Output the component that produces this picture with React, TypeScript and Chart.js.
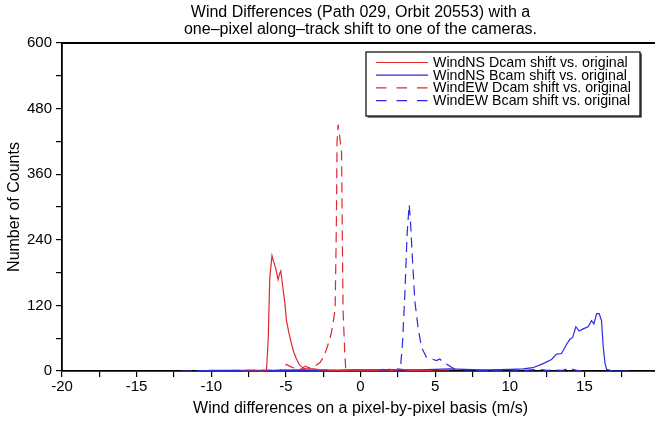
import React, { useEffect, useRef } from 'react';
import { Chart, registerables } from 'chart.js';

Chart.register(...registerables);

const titleLines = [
  'Wind Differences (Path 029, Orbit 20553) with a',
  'one–pixel along–track shift to one of the cameras.',
];
const xAxisTitle = 'Wind differences on a pixel-by-pixel basis (m/s)';
const yAxisTitle = 'Number of Counts';

const xTickLabels = [-20, -15, -10, -5, 0, 5, 10, 15];
const yTickLabels = [0, 120, 240, 360, 480, 600];

const seriesLabels = [
  'WindNS Dcam shift vs. original',
  'WindNS Bcam shift vs. original',
  'WindEW Dcam shift vs. original',
  'WindEW Bcam shift vs. original',
];

// WindNS Dcam (red solid)
const nsDcamX = [-8, -6.3, -6.18, -6.08, -5.93, -5.82, -5.7, -5.52, -5.42, -5.34, -5.19, -5.07, -4.96, -4.8, -4.63, -4.45, -4.29, -4.1, -3.96, -3.85, -3.7, -3.55, -3.4, -3.1, -2.8, -2.4, -2.0, -1.5, -1.0, -0.5, 0, 0.5, 1.0, 1.5, 2.0, 2.5, 3.0, 3.5, 4.0, 4.5, 5.0, 6.0];
const nsDcamY = [0, 0, 60, 170, 211, 200, 190, 167, 178, 183, 150, 125, 92, 70, 50, 33, 22, 12, 8, 6, 9, 7, 4, 4, 2, 2, 1, 1, 1, 2, 1, 2, 1, 3, 1, 3, 2, 1, 2, 1, 0, 0];

// WindNS Bcam (blue solid)
const nsBcamX = [-11, -10, -8, -6, -4, -2, 0, 2, 4, 5, 6, 7, 8, 8.67, 10.0, 10.9, 11.55, 12.2, 12.8, 13.14, 13.47, 13.81, 14.03, 14.21, 14.43, 14.65, 14.92, 15.25, 15.48, 15.64, 15.82, 15.99, 16.15, 16.26, 16.38, 16.49, 16.9, 18];
const nsBcamY = [0, 1, 1, 1, 2, 1, 2, 2, 2, 3, 4, 3, 2, 2, 3, 4, 6, 13, 21, 31, 32, 49, 58, 61, 81, 73, 77, 81, 92, 86, 105, 105, 92, 45, 15, 3, 0, 0];

// WindEW Dcam (red dashed)
const ewDcamX = [-7, -5.4, -5.1, -4.95, -4.7, -4.5, -4.2, -3.9, -3.6, -3.3, -3.0, -2.7, -2.5, -2.3, -2.1, -1.95, -1.8, -1.7, -1.62, -1.57, -1.5, -1.4, -1.27, -1.17, -1.05, -0.98, -0.5, 0, 0.5, 1.0, 1.5, 2.0, 2.5, 3.0, 3.5, 4.5];
const ewDcamY = [0, 0, 10, 12, 8, 6, 4, 4, 5, 7, 10, 16, 25, 38, 55, 70, 95, 113, 260, 420, 451, 430, 400, 113, 30, 0, 1, 2, 1, 1, 2, 3, 4, 2, 1, 0];

// WindEW Bcam (blue dashed)
const ewBcamX = [-12, -8, -5, -2, 1, 2.5, 2.68, 2.81, 2.97, 3.12, 3.26, 3.35, 3.49, 3.64, 3.86, 4.09, 4.42, 4.76, 5.09, 5.31, 5.54, 5.8, 6.1, 6.3, 7, 8, 9, 10, 11, 12, 12.5, 13, 13.5, 14, 14.5, 15];
const ewBcamY = [0, 1, 1, 1, 1, 1, 7, 49, 140, 249, 304, 273, 200, 128, 79, 43, 25, 22, 19, 22, 16, 12, 7, 4, 2, 1, 1, 2, 1, 3, 1, 2, 1, 5, 1, 0];

const RED = '#e3262b';
const BLUE = '#2b2be3';
const FONT = '"Liberation Sans", Arial, Helvetica, sans-serif';

const toPoints = (xs: number[], ys: number[]) => xs.map((x, i) => ({ x, y: ys[i] }));

const frameAndLegend = {
  id: 'frameAndLegend',
  afterDraw(chart: any) {
    const { ctx, chartArea } = chart;
    ctx.save();
    // top frame line
    ctx.strokeStyle = '#000';
    ctx.lineWidth = 1.8;
    ctx.beginPath();
    ctx.moveTo(chartArea.left, chartArea.top);
    ctx.lineTo(chartArea.right, chartArea.top);
    ctx.stroke();

    // legend box
    const bx = 366, by = 52, bw = 274, bh = 64;
    ctx.fillStyle = '#fff';
    ctx.fillRect(bx, by, bw, bh);
    ctx.strokeStyle = '#000';
    ctx.lineWidth = 1.2;
    ctx.strokeRect(bx, by, bw, bh);
    ctx.beginPath();
    ctx.moveTo(bx + 1.5, by + bh + 1);
    ctx.lineTo(bx + bw + 1, by + bh + 1);
    ctx.lineTo(bx + bw + 1, by + 1.5);
    ctx.stroke();

    ctx.font = '14.2px ' + FONT;
    ctx.textBaseline = 'middle';
    ctx.textAlign = 'left';
    chart.data.datasets.forEach((ds: any, i: number) => {
      const y = 62.5 + i * 12.7;
      ctx.strokeStyle = ds.borderColor;
      ctx.lineWidth = ds.borderWidth;
      ctx.setLineDash(ds.borderDash ? [10.5, 10] : []);
      ctx.beginPath();
      ctx.moveTo(376, y);
      ctx.lineTo(428, y);
      ctx.stroke();
      ctx.setLineDash([]);
      ctx.fillStyle = '#000';
      ctx.fillText(ds.label, 433, y + 0.5);
    });
    ctx.restore();
  },
};

export default function App() {
  const canvasRef = useRef<HTMLCanvasElement | null>(null);

  useEffect(() => {
    const canvas = canvasRef.current;
    if (!canvas) return;
    const chart = new Chart(canvas, {
      type: 'line',
      data: {
        datasets: [
          { label: seriesLabels[0], data: toPoints(nsDcamX, nsDcamY), borderColor: RED, borderWidth: 1.2, pointRadius: 0, tension: 0, fill: false },
          { label: seriesLabels[1], data: toPoints(nsBcamX, nsBcamY), borderColor: BLUE, borderWidth: 1.2, pointRadius: 0, tension: 0, fill: false },
          { label: seriesLabels[2], data: toPoints(ewDcamX, ewDcamY), borderColor: RED, borderWidth: 1.2, borderDash: [10, 6], pointRadius: 0, tension: 0, fill: false },
          { label: seriesLabels[3], data: toPoints(ewBcamX, ewBcamY), borderColor: BLUE, borderWidth: 1.2, borderDash: [10, 6], pointRadius: 0, tension: 0, fill: false },
        ],
      },
      options: {
        animation: false,
        responsive: false,
        events: [],
        layout: { padding: { left: 0, right: 6, top: 0, bottom: 0 } },
        plugins: {
          legend: { display: false },
          tooltip: { enabled: false },
          title: {
            display: true,
            fullSize: false,
            text: titleLines,
            color: '#000',
            font: { family: FONT, size: 16, weight: 'normal', lineHeight: 1.08 },
            padding: { top: 4, bottom: 4.44 },
          },
        },
        scales: {
          x: {
            type: 'linear',
            min: -20,
            max: 20,
            afterFit: (s: any) => { s.height = 52; },
            ticks: {
              stepSize: 2.5,
              autoSkip: false,
              maxRotation: 0,
              color: '#000',
              padding: 1,
              font: { family: FONT, size: 15 },
              callback: (v: any) => (xTickLabels.includes(Number(v)) ? String(v) : ''),
            },
            grid: { drawOnChartArea: false, drawTicks: true, tickLength: 6, color: '#000', lineWidth: 1.2 },
            border: { display: true, color: '#000', width: 1.8 },
            title: {
              display: true,
              text: xAxisTitle,
              color: '#000',
              font: { family: FONT, size: 16, lineHeight: 1.2 },
              padding: { top: 0, bottom: 4.4 },
            },
          },
          y: {
            type: 'linear',
            min: 0,
            max: 600,
            afterFit: (s: any) => { s.width = 62; },
            ticks: {
              stepSize: 60,
              autoSkip: false,
              color: '#000',
              padding: 4,
              font: { family: FONT, size: 15 },
              callback: (v: any) => (yTickLabels.includes(Number(v)) ? String(v) : ''),
            },
            grid: { drawOnChartArea: false, drawTicks: true, tickLength: 6, color: '#000', lineWidth: 1.2 },
            border: { display: true, color: '#000', width: 1.8 },
            title: {
              display: true,
              text: yAxisTitle,
              color: '#000',
              font: { family: FONT, size: 16, lineHeight: 1.2 },
              padding: { top: 5, bottom: 0 },
            },
          },
        },
      },
      plugins: [frameAndLegend],
    });
    return () => chart.destroy();
  }, []);

  return (
    <div style={{ position: 'absolute', left: 0, top: 0, width: 655, height: 423, overflow: 'hidden', background: '#fff' }}>
      <canvas ref={canvasRef} width={665} height={423} style={{ width: 665, height: 423, display: 'block' }} />
    </div>
  );
}
